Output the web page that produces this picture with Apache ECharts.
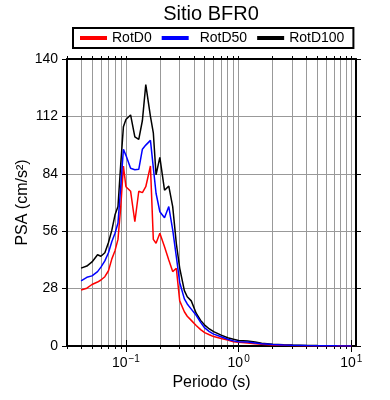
<!DOCTYPE html>
<html><head><meta charset="utf-8">
<script src="https://cdn.jsdelivr.net/npm/echarts@6/dist/echarts.min.js"></script>
<style>html,body{margin:0;padding:0;background:#fff}#c{width:390px;height:400px}</style>
</head><body><div id="c"></div>
<script>
const titleText = 'Sitio BFR0';
const seriesNames = ['RotD0', 'RotD50', 'RotD100'];
const periods = [0.04,0.045,0.05,0.056,0.06,0.065,0.07,0.075,0.08,0.085,
  0.09,0.095,0.1,0.11,0.12,0.13,0.14,0.15,0.165,0.175,
  0.185,0.2,0.22,0.24,0.26,0.28,0.3,0.33,0.35,0.38,
  0.42,0.46,0.5,0.55,0.6,0.7,0.8,0.9,1.0,1.2,
  1.4,1.6,2,2.5,3,4,5,6,7.5,10];
const rotD0 = [27.3,28.2,30,31.2,32.2,33.8,36.7,42.5,46.5,52,
  68,87.8,77.7,75.5,60.6,75.5,74.8,77.7,87.8,52,
  50.1,55,48.4,42,36.3,37.9,22,16.7,14.5,12.5,
  10,8,6.5,5.5,4.6,3.7,2.9,2.1,1.8,1.5,
  1.1,0.8,0.5,0.35,0.25,0.17,0.12,0.09,0.07,0.05];
const rotD50 = [31.8,33.5,34.2,36.3,38.5,41.5,45.5,51,55,60,
  78,96,93,86.7,86,86.2,96,98,100.3,87,
  74.5,65.5,62.6,68,56.6,43.6,31,23,20.5,18,
  15,11.5,8.8,7,5.8,4.5,3.3,2.5,2.1,1.9,
  1.5,1.1,0.7,0.45,0.35,0.22,0.16,0.12,0.09,0.06];
const rotD100 = [38,39,41,44.5,43.8,45.5,50.5,56.5,64,68,
  89,107,110.5,112.7,102,100.8,110,127.5,112,104,
  83.5,92,76,78,68,50,38,27,24,22,
  16,12.5,10.2,8.3,7,5.3,4,3.3,2.7,2.4,
  2.0,1.4,0.9,0.6,0.45,0.3,0.2,0.15,0.12,0.08];
const xMajorTicks = [0.1, 1, 10];
const xMinorTicks = [0.03,0.04,0.05,0.06,0.07,0.08,0.09,0.1,0.2,0.3,0.4,0.5,0.6,0.7,0.8,0.9,1,2,3,4,5,6,7,8,9,10];
const yTicks = [0, 28, 56, 84, 112, 140];
const xName = 'Periodo (s)';
const yName = 'PSA (cm/s²)';
const colors = ['#ff0000', '#0000ff', '#000000'];

const FONT = 'Liberation Sans, Arial, Helvetica, sans-serif';
const chart = echarts.init(document.getElementById('c'), null, {renderer: 'canvas'});

function pair(vals) { return periods.map((p, i) => [p, vals[i]]); }
function expLabel(v) {
  const e = Math.round(Math.log10(v));
  if (Math.abs(v - Math.pow(10, e)) / v > 1e-6) return '';
  const es = e < 0 ? '\u2212' + (-e) : String(e);
  return '{b|10}{s|' + es + '}';
}
const X_MIN = 0.03, X_MAX = 11;
const baseX = {
  type: 'log', logBase: 10, min: X_MIN, max: X_MAX, gridIndex: 0
};
const frameLine = {show: true, onZero: false, lineStyle: {color: '#000', width: 2}};

const option = {
  animation: false,
  backgroundColor: '#fff',
  title: {
    text: titleText, left: 211, textAlign: 'center', top: 4, padding: 0,
    textStyle: {fontFamily: FONT, fontSize: 20, fontWeight: 'normal', color: '#000'}
  },
  legend: {
    left: 73, top: 28, orient: 'horizontal',
    padding: [3, 9, 3, 7], itemGap: 10,
    borderColor: '#000', borderWidth: 2,
    itemWidth: 27, itemHeight: 4, icon: 'rect',
    textStyle: {fontFamily: FONT, fontSize: 14, color: '#000'},
    data: [
      {name: seriesNames[0]},
      {name: seriesNames[1], textStyle: {padding: [0, 0, 0, 6]}},
      {name: seriesNames[2]}
    ]
  },
  grid: {left: 67, right: 34, top: 59, bottom: 54, containLabel: false},
  xAxis: [
    Object.assign({}, baseX, {
      position: 'bottom',
      name: xName, nameLocation: 'middle', nameGap: 29, nameMoveOverlap: false,
      nameTextStyle: {fontFamily: FONT, fontSize: 16, color: '#000'},
      axisLine: frameLine,
      axisTick: {show: true, inside: false, length: 3, customValues: xMinorTicks, lineStyle: {color: '#000', width: 1}},
      axisLabel: {
        show: true, customValues: xMajorTicks, margin: 8, formatter: expLabel,
        showMinLabel: true, showMaxLabel: true,
        rich: {
          b: {fontFamily: FONT, fontSize: 14, color: '#000', lineHeight: 16, verticalAlign: 'bottom'},
          s: {fontFamily: FONT, fontSize: 10, color: '#000', lineHeight: 16, verticalAlign: 'top', padding: [0, 0, 6, 1]}
        }
      },
      splitLine: {show: true, lineStyle: {color: '#999', width: 1}}
    }),
    Object.assign({}, baseX, {
      position: 'bottom',
      axisLine: {show: false},
      axisTick: {show: true, inside: false, length: 6, customValues: xMajorTicks, lineStyle: {color: '#000', width: 1}},
      axisLabel: {show: false},
      splitLine: {show: false}
    }),
    Object.assign({}, baseX, {
      position: 'top',
      axisLine: frameLine,
      axisTick: {show: true, inside: false, length: 3, customValues: xMinorTicks, lineStyle: {color: '#000', width: 1}},
      axisLabel: {show: false},
      splitLine: {show: false}
    }),
    Object.assign({}, baseX, {
      position: 'top',
      axisLine: {show: false},
      axisTick: {show: true, inside: false, length: 6, customValues: xMajorTicks, lineStyle: {color: '#000', width: 1}},
      axisLabel: {show: false},
      splitLine: {show: false}
    })
  ],
  yAxis: [
    {
      type: 'value', min: 0, max: 140, interval: 28, position: 'left',
      name: yName, nameLocation: 'middle', nameGap: 36, nameMoveOverlap: false,
      nameTextStyle: {fontFamily: FONT, fontSize: 16, color: '#000'},
      axisLine: frameLine,
      axisTick: {show: true, inside: false, length: 5, lineStyle: {color: '#000', width: 1}},
      axisLabel: {fontFamily: FONT, fontSize: 14, color: '#000', margin: 9,
        customValues: yTicks},
      splitLine: {show: true, lineStyle: {color: '#999', width: 1}}
    },
    {
      type: 'value', min: 0, max: 140, interval: 28, position: 'right',
      axisLine: frameLine,
      axisTick: {show: true, inside: false, length: 5, lineStyle: {color: '#000', width: 1}},
      axisLabel: {show: false},
      splitLine: {show: false}
    }
  ],
  series: [
    {name: seriesNames[0], type: 'line', data: pair(rotD0), showSymbol: false, symbol: 'none',
      lineStyle: {color: colors[0], width: 1.5}, itemStyle: {color: colors[0]}, z: 3},
    {name: seriesNames[1], type: 'line', data: pair(rotD50), showSymbol: false, symbol: 'none',
      lineStyle: {color: colors[1], width: 1.5}, itemStyle: {color: colors[1]}, z: 4},
    {name: seriesNames[2], type: 'line', data: pair(rotD100), showSymbol: false, symbol: 'none',
      lineStyle: {color: colors[2], width: 1.5}, itemStyle: {color: colors[2]}, z: 2}
  ]
};
chart.setOption(option);
</script>
</body></html>
